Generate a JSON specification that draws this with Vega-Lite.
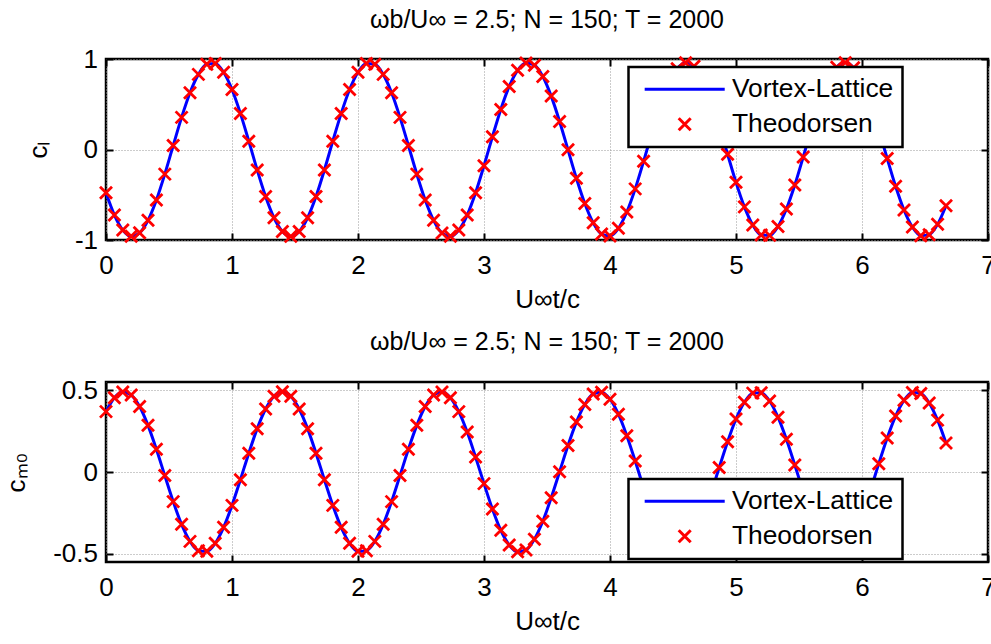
{
  "$schema": "https://vega.github.io/schema/vega-lite/v6.json",
  "background": "white",
  "padding": {"left": 2, "top": 6, "right": 0, "bottom": 0},
  "bounds": "flush",
  "spacing": 142,
  "config": {
    "font": "Liberation Sans",
    "view": {"stroke": "black", "strokeWidth": 2.5},
    "axis": {
      "domain": false,
      "tickColor": "black",
      "tickWidth": 2,
      "tickSize": -7,
      "labelFont": "Liberation Sans",
      "labelFontSize": 26,
      "labelColor": "black",
      "labelOverlap": false,
      "titleFont": "Liberation Sans",
      "titleFontSize": 26,
      "titleFontWeight": "normal",
      "titleColor": "black",
      "gridColor": "#999999",
      "gridDash": [1, 2],
      "gridWidth": 1,
      "gridOpacity": 1
    },
    "legend": {
      "labelFont": "Liberation Sans",
      "labelFontSize": 26.4,
      "labelColor": "black",
      "labelLimit": 0,
      "symbolSize": 144,
      "symbolStrokeWidth": 3,
      "strokeColor": "black",
      "strokeWidth": 2.5,
      "fillColor": "white",
      "padding": 9,
      "cornerRadius": 0,
      "rowPadding": 8,
      "symbolOffset": 34,
      "labelOffset": 34
    },
    "title": {"font": "Liberation Sans", "fontSize": 25, "fontWeight": "normal", "color": "black", "anchor": "middle", "offset": 13}
  },
  "resolve": {"scale": {"color": "independent", "shape": "independent"}},
  "datasets": {
    "vl": [
      {"t":0,"cl":-0.478,"cm":0.369,"s":"Vortex-Lattice"},{"t":0.0667,"cl":-0.724,"cm":0.454,"s":"Vortex-Lattice"},{"t":0.1333,"cl":-0.890,"cm":0.489,"s":"Vortex-Lattice"},{"t":0.2,"cl":-0.959,"cm":0.470,"s":"Vortex-Lattice"},{"t":0.2667,"cl":-0.921,"cm":0.400,"s":"Vortex-Lattice"},{"t":0.3333,"cl":-0.783,"cm":0.285,"s":"Vortex-Lattice"},{"t":0.4,"cl":-0.558,"cm":0.139,"s":"Vortex-Lattice"},{"t":0.4667,"cl":-0.272,"cm":-0.022,"s":"Vortex-Lattice"},{"t":0.5333,"cl":0.044,"cm":-0.181,"s":"Vortex-Lattice"},{"t":0.6,"cl":0.355,"cm":-0.320,"s":"Vortex-Lattice"},
      {"t":0.6667,"cl":0.627,"cm":-0.424,"s":"Vortex-Lattice"},{"t":0.7333,"cl":0.830,"cm":-0.481,"s":"Vortex-Lattice"},{"t":0.8,"cl":0.942,"cm":-0.485,"s":"Vortex-Lattice"},{"t":0.8667,"cl":0.950,"cm":-0.436,"s":"Vortex-Lattice"},{"t":0.9333,"cl":0.853,"cm":-0.338,"s":"Vortex-Lattice"},{"t":1,"cl":0.663,"cm":-0.204,"s":"Vortex-Lattice"},{"t":1.0667,"cl":0.399,"cm":-0.047,"s":"Vortex-Lattice"},{"t":1.1333,"cl":0.092,"cm":0.115,"s":"Vortex-Lattice"},{"t":1.2,"cl":-0.226,"cm":0.265,"s":"Vortex-Lattice"},{"t":1.2667,"cl":-0.519,"cm":0.385,"s":"Vortex-Lattice"},
      {"t":1.3333,"cl":-0.754,"cm":0.463,"s":"Vortex-Lattice"},{"t":1.4,"cl":-0.907,"cm":0.490,"s":"Vortex-Lattice"},{"t":1.4667,"cl":-0.960,"cm":0.463,"s":"Vortex-Lattice"},{"t":1.5333,"cl":-0.907,"cm":0.385,"s":"Vortex-Lattice"},{"t":1.6,"cl":-0.754,"cm":0.265,"s":"Vortex-Lattice"},{"t":1.6667,"cl":-0.519,"cm":0.115,"s":"Vortex-Lattice"},{"t":1.7333,"cl":-0.226,"cm":-0.047,"s":"Vortex-Lattice"},{"t":1.8,"cl":0.092,"cm":-0.204,"s":"Vortex-Lattice"},{"t":1.8667,"cl":0.399,"cm":-0.338,"s":"Vortex-Lattice"},{"t":1.9333,"cl":0.663,"cm":-0.436,"s":"Vortex-Lattice"},
      {"t":2,"cl":0.854,"cm":-0.485,"s":"Vortex-Lattice"},{"t":2.0667,"cl":0.950,"cm":-0.481,"s":"Vortex-Lattice"},{"t":2.1333,"cl":0.942,"cm":-0.424,"s":"Vortex-Lattice"},{"t":2.2,"cl":0.830,"cm":-0.320,"s":"Vortex-Lattice"},{"t":2.2667,"cl":0.627,"cm":-0.181,"s":"Vortex-Lattice"},{"t":2.3333,"cl":0.355,"cm":-0.022,"s":"Vortex-Lattice"},{"t":2.4,"cl":0.044,"cm":0.139,"s":"Vortex-Lattice"},{"t":2.4667,"cl":-0.272,"cm":0.285,"s":"Vortex-Lattice"},{"t":2.5333,"cl":-0.559,"cm":0.400,"s":"Vortex-Lattice"},{"t":2.6,"cl":-0.783,"cm":0.470,"s":"Vortex-Lattice"},
      {"t":2.6667,"cl":-0.922,"cm":0.489,"s":"Vortex-Lattice"},{"t":2.7333,"cl":-0.959,"cm":0.454,"s":"Vortex-Lattice"},{"t":2.8,"cl":-0.890,"cm":0.369,"s":"Vortex-Lattice"},{"t":2.8667,"cl":-0.724,"cm":0.244,"s":"Vortex-Lattice"},{"t":2.9333,"cl":-0.478,"cm":0.091,"s":"Vortex-Lattice"},{"t":3,"cl":-0.179,"cm":-0.071,"s":"Vortex-Lattice"},{"t":3.0667,"cl":0.140,"cm":-0.226,"s":"Vortex-Lattice"},{"t":3.1333,"cl":0.443,"cm":-0.356,"s":"Vortex-Lattice"},{"t":3.2,"cl":0.697,"cm":-0.446,"s":"Vortex-Lattice"},{"t":3.2667,"cl":0.875,"cm":-0.488,"s":"Vortex-Lattice"},
      {"t":3.3333,"cl":0.956,"cm":-0.476,"s":"Vortex-Lattice"},{"t":3.4,"cl":0.932,"cm":-0.411,"s":"Vortex-Lattice"},{"t":3.4667,"cl":0.806,"cm":-0.301,"s":"Vortex-Lattice"},{"t":3.5333,"cl":0.590,"cm":-0.158,"s":"Vortex-Lattice"},{"t":3.6,"cl":0.310,"cm":0.002,"s":"Vortex-Lattice"},{"t":3.6667,"cl":-0.004,"cm":0.162,"s":"Vortex-Lattice"},{"t":3.7333,"cl":-0.318,"cm":0.305,"s":"Vortex-Lattice"},{"t":3.8,"cl":-0.597,"cm":0.413,"s":"Vortex-Lattice"},{"t":3.8667,"cl":-0.810,"cm":0.477,"s":"Vortex-Lattice"},{"t":3.9333,"cl":-0.934,"cm":0.488,"s":"Vortex-Lattice"},
      {"t":4,"cl":-0.955,"cm":0.445,"s":"Vortex-Lattice"},{"t":4.0667,"cl":-0.871,"cm":0.353,"s":"Vortex-Lattice"},{"t":4.1333,"cl":-0.691,"cm":0.222,"s":"Vortex-Lattice"},{"t":4.2,"cl":-0.435,"cm":0.067,"s":"Vortex-Lattice"},{"t":4.2667,"cl":-0.131,"cm":-0.096,"s":"Vortex-Lattice"},{"t":4.3333,"cl":0.187,"cm":-0.247,"s":"Vortex-Lattice"},{"t":4.4,"cl":0.485,"cm":-0.372,"s":"Vortex-Lattice"},{"t":4.4667,"cl":0.729,"cm":-0.456,"s":"Vortex-Lattice"},{"t":4.5333,"cl":0.893,"cm":-0.490,"s":"Vortex-Lattice"},{"t":4.6,"cl":0.959,"cm":-0.469,"s":"Vortex-Lattice"},
      {"t":4.6667,"cl":0.919,"cm":-0.397,"s":"Vortex-Lattice"},{"t":4.7333,"cl":0.778,"cm":-0.282,"s":"Vortex-Lattice"},{"t":4.8,"cl":0.552,"cm":-0.135,"s":"Vortex-Lattice"},{"t":4.8667,"cl":0.264,"cm":0.027,"s":"Vortex-Lattice"},{"t":4.9333,"cl":-0.052,"cm":0.185,"s":"Vortex-Lattice"},{"t":5,"cl":-0.363,"cm":0.324,"s":"Vortex-Lattice"},{"t":5.0667,"cl":-0.634,"cm":0.426,"s":"Vortex-Lattice"},{"t":5.1333,"cl":-0.835,"cm":0.482,"s":"Vortex-Lattice"},{"t":5.2,"cl":-0.944,"cm":0.484,"s":"Vortex-Lattice"},{"t":5.2667,"cl":-0.949,"cm":0.434,"s":"Vortex-Lattice"},
      {"t":5.3333,"cl":-0.850,"cm":0.335,"s":"Vortex-Lattice"},{"t":5.4,"cl":-0.657,"cm":0.200,"s":"Vortex-Lattice"},{"t":5.4667,"cl":-0.392,"cm":0.043,"s":"Vortex-Lattice"},{"t":5.5333,"cl":-0.083,"cm":-0.119,"s":"Vortex-Lattice"},{"t":5.6,"cl":0.234,"cm":-0.268,"s":"Vortex-Lattice"},{"t":5.6667,"cl":0.526,"cm":-0.388,"s":"Vortex-Lattice"},{"t":5.7333,"cl":0.760,"cm":-0.464,"s":"Vortex-Lattice"},{"t":5.8,"cl":0.910,"cm":-0.490,"s":"Vortex-Lattice"},{"t":5.8667,"cl":0.960,"cm":-0.462,"s":"Vortex-Lattice"},{"t":5.9333,"cl":0.904,"cm":-0.382,"s":"Vortex-Lattice"},
      {"t":6,"cl":0.749,"cm":-0.261,"s":"Vortex-Lattice"},{"t":6.0667,"cl":0.511,"cm":-0.111,"s":"Vortex-Lattice"},{"t":6.1333,"cl":0.218,"cm":0.051,"s":"Vortex-Lattice"},{"t":6.2,"cl":-0.100,"cm":0.208,"s":"Vortex-Lattice"},{"t":6.2667,"cl":-0.407,"cm":0.342,"s":"Vortex-Lattice"},{"t":6.3333,"cl":-0.669,"cm":0.438,"s":"Vortex-Lattice"},{"t":6.4,"cl":-0.857,"cm":0.486,"s":"Vortex-Lattice"},{"t":6.4667,"cl":-0.952,"cm":0.480,"s":"Vortex-Lattice"},{"t":6.5333,"cl":-0.941,"cm":0.422,"s":"Vortex-Lattice"},{"t":6.6,"cl":-0.826,"cm":0.317,"s":"Vortex-Lattice"},
      {"t":6.6667,"cl":-0.621,"cm":0.177,"s":"Vortex-Lattice"}
    ],
    "th": [
      {"t":0,"cl":-0.478,"cm":0.369,"s":"Theodorsen"},{"t":0.0667,"cl":-0.724,"cm":0.454,"s":"Theodorsen"},{"t":0.1333,"cl":-0.890,"cm":0.489,"s":"Theodorsen"},{"t":0.2,"cl":-0.959,"cm":0.470,"s":"Theodorsen"},{"t":0.2667,"cl":-0.921,"cm":0.400,"s":"Theodorsen"},{"t":0.3333,"cl":-0.783,"cm":0.285,"s":"Theodorsen"},{"t":0.4,"cl":-0.558,"cm":0.139,"s":"Theodorsen"},{"t":0.4667,"cl":-0.272,"cm":-0.022,"s":"Theodorsen"},{"t":0.5333,"cl":0.044,"cm":-0.181,"s":"Theodorsen"},{"t":0.6,"cl":0.355,"cm":-0.320,"s":"Theodorsen"},
      {"t":0.6667,"cl":0.627,"cm":-0.424,"s":"Theodorsen"},{"t":0.7333,"cl":0.830,"cm":-0.481,"s":"Theodorsen"},{"t":0.8,"cl":0.942,"cm":-0.485,"s":"Theodorsen"},{"t":0.8667,"cl":0.950,"cm":-0.436,"s":"Theodorsen"},{"t":0.9333,"cl":0.853,"cm":-0.338,"s":"Theodorsen"},{"t":1,"cl":0.663,"cm":-0.204,"s":"Theodorsen"},{"t":1.0667,"cl":0.399,"cm":-0.047,"s":"Theodorsen"},{"t":1.1333,"cl":0.092,"cm":0.115,"s":"Theodorsen"},{"t":1.2,"cl":-0.226,"cm":0.265,"s":"Theodorsen"},{"t":1.2667,"cl":-0.519,"cm":0.385,"s":"Theodorsen"},
      {"t":1.3333,"cl":-0.754,"cm":0.463,"s":"Theodorsen"},{"t":1.4,"cl":-0.907,"cm":0.490,"s":"Theodorsen"},{"t":1.4667,"cl":-0.960,"cm":0.463,"s":"Theodorsen"},{"t":1.5333,"cl":-0.907,"cm":0.385,"s":"Theodorsen"},{"t":1.6,"cl":-0.754,"cm":0.265,"s":"Theodorsen"},{"t":1.6667,"cl":-0.519,"cm":0.115,"s":"Theodorsen"},{"t":1.7333,"cl":-0.226,"cm":-0.047,"s":"Theodorsen"},{"t":1.8,"cl":0.092,"cm":-0.204,"s":"Theodorsen"},{"t":1.8667,"cl":0.399,"cm":-0.338,"s":"Theodorsen"},{"t":1.9333,"cl":0.663,"cm":-0.436,"s":"Theodorsen"},
      {"t":2,"cl":0.854,"cm":-0.485,"s":"Theodorsen"},{"t":2.0667,"cl":0.950,"cm":-0.481,"s":"Theodorsen"},{"t":2.1333,"cl":0.942,"cm":-0.424,"s":"Theodorsen"},{"t":2.2,"cl":0.830,"cm":-0.320,"s":"Theodorsen"},{"t":2.2667,"cl":0.627,"cm":-0.181,"s":"Theodorsen"},{"t":2.3333,"cl":0.355,"cm":-0.022,"s":"Theodorsen"},{"t":2.4,"cl":0.044,"cm":0.139,"s":"Theodorsen"},{"t":2.4667,"cl":-0.272,"cm":0.285,"s":"Theodorsen"},{"t":2.5333,"cl":-0.559,"cm":0.400,"s":"Theodorsen"},{"t":2.6,"cl":-0.783,"cm":0.470,"s":"Theodorsen"},
      {"t":2.6667,"cl":-0.922,"cm":0.489,"s":"Theodorsen"},{"t":2.7333,"cl":-0.959,"cm":0.454,"s":"Theodorsen"},{"t":2.8,"cl":-0.890,"cm":0.369,"s":"Theodorsen"},{"t":2.8667,"cl":-0.724,"cm":0.244,"s":"Theodorsen"},{"t":2.9333,"cl":-0.478,"cm":0.091,"s":"Theodorsen"},{"t":3,"cl":-0.179,"cm":-0.071,"s":"Theodorsen"},{"t":3.0667,"cl":0.140,"cm":-0.226,"s":"Theodorsen"},{"t":3.1333,"cl":0.443,"cm":-0.356,"s":"Theodorsen"},{"t":3.2,"cl":0.697,"cm":-0.446,"s":"Theodorsen"},{"t":3.2667,"cl":0.875,"cm":-0.488,"s":"Theodorsen"},
      {"t":3.3333,"cl":0.956,"cm":-0.476,"s":"Theodorsen"},{"t":3.4,"cl":0.932,"cm":-0.411,"s":"Theodorsen"},{"t":3.4667,"cl":0.806,"cm":-0.301,"s":"Theodorsen"},{"t":3.5333,"cl":0.590,"cm":-0.158,"s":"Theodorsen"},{"t":3.6,"cl":0.310,"cm":0.002,"s":"Theodorsen"},{"t":3.6667,"cl":-0.004,"cm":0.162,"s":"Theodorsen"},{"t":3.7333,"cl":-0.318,"cm":0.305,"s":"Theodorsen"},{"t":3.8,"cl":-0.597,"cm":0.413,"s":"Theodorsen"},{"t":3.8667,"cl":-0.810,"cm":0.477,"s":"Theodorsen"},{"t":3.9333,"cl":-0.934,"cm":0.488,"s":"Theodorsen"},
      {"t":4,"cl":-0.955,"cm":0.445,"s":"Theodorsen"},{"t":4.0667,"cl":-0.871,"cm":0.353,"s":"Theodorsen"},{"t":4.1333,"cl":-0.691,"cm":0.222,"s":"Theodorsen"},{"t":4.2,"cl":-0.435,"cm":0.067,"s":"Theodorsen"},{"t":4.2667,"cl":-0.131,"cm":-0.096,"s":"Theodorsen"},{"t":4.3333,"cl":0.187,"cm":-0.247,"s":"Theodorsen"},{"t":4.4,"cl":0.485,"cm":-0.372,"s":"Theodorsen"},{"t":4.4667,"cl":0.729,"cm":-0.456,"s":"Theodorsen"},{"t":4.5333,"cl":0.893,"cm":-0.490,"s":"Theodorsen"},{"t":4.6,"cl":0.959,"cm":-0.469,"s":"Theodorsen"},
      {"t":4.6667,"cl":0.919,"cm":-0.397,"s":"Theodorsen"},{"t":4.7333,"cl":0.778,"cm":-0.282,"s":"Theodorsen"},{"t":4.8,"cl":0.552,"cm":-0.135,"s":"Theodorsen"},{"t":4.8667,"cl":0.264,"cm":0.027,"s":"Theodorsen"},{"t":4.9333,"cl":-0.052,"cm":0.185,"s":"Theodorsen"},{"t":5,"cl":-0.363,"cm":0.324,"s":"Theodorsen"},{"t":5.0667,"cl":-0.634,"cm":0.426,"s":"Theodorsen"},{"t":5.1333,"cl":-0.835,"cm":0.482,"s":"Theodorsen"},{"t":5.2,"cl":-0.944,"cm":0.484,"s":"Theodorsen"},{"t":5.2667,"cl":-0.949,"cm":0.434,"s":"Theodorsen"},
      {"t":5.3333,"cl":-0.850,"cm":0.335,"s":"Theodorsen"},{"t":5.4,"cl":-0.657,"cm":0.200,"s":"Theodorsen"},{"t":5.4667,"cl":-0.392,"cm":0.043,"s":"Theodorsen"},{"t":5.5333,"cl":-0.083,"cm":-0.119,"s":"Theodorsen"},{"t":5.6,"cl":0.234,"cm":-0.268,"s":"Theodorsen"},{"t":5.6667,"cl":0.526,"cm":-0.388,"s":"Theodorsen"},{"t":5.7333,"cl":0.760,"cm":-0.464,"s":"Theodorsen"},{"t":5.8,"cl":0.910,"cm":-0.490,"s":"Theodorsen"},{"t":5.8667,"cl":0.960,"cm":-0.462,"s":"Theodorsen"},{"t":5.9333,"cl":0.904,"cm":-0.382,"s":"Theodorsen"},
      {"t":6,"cl":0.749,"cm":-0.261,"s":"Theodorsen"},{"t":6.0667,"cl":0.511,"cm":-0.111,"s":"Theodorsen"},{"t":6.1333,"cl":0.218,"cm":0.051,"s":"Theodorsen"},{"t":6.2,"cl":-0.100,"cm":0.208,"s":"Theodorsen"},{"t":6.2667,"cl":-0.407,"cm":0.342,"s":"Theodorsen"},{"t":6.3333,"cl":-0.669,"cm":0.438,"s":"Theodorsen"},{"t":6.4,"cl":-0.857,"cm":0.486,"s":"Theodorsen"},{"t":6.4667,"cl":-0.952,"cm":0.480,"s":"Theodorsen"},{"t":6.5333,"cl":-0.941,"cm":0.422,"s":"Theodorsen"},{"t":6.6,"cl":-0.826,"cm":0.317,"s":"Theodorsen"},
      {"t":6.6667,"cl":-0.621,"cm":0.177,"s":"Theodorsen"}
    ]
  },
  "vconcat": [
    {
      "width": 882,
      "height": 181,
      "title": {"text": "ωb/U∞ = 2.5; N = 150; T = 2000", "offset": 13},
      "layer": [
        {
          "data": {"name": "vl"},
          "mark": {"type": "line", "strokeWidth": 3, "interpolate": "monotone"},
          "encoding": {
            "x": {"field": "t", "type": "quantitative", "scale": {"domain": [0, 7], "nice": false, "zero": false},
                  "axis": {"values": [0,1,2,3,4,5,6,7], "format": "d", "title": "U∞t/c", "grid": true, "labelFlush": false, "labelPadding": 19, "titlePadding": 8}},
            "y": {"field": "cl", "type": "quantitative", "scale": {"domain": [-1, 1], "nice": false, "zero": false},
                  "axis": {"values": [-1,0,1], "format": "~g", "labelExpr": "replace(datum.label, '−', '-')", "title": "cₗ", "grid": true, "labelPadding": 15.5, "titlePadding": 23}},
            "color": {"field": "s", "type": "nominal", "scale": {"domain": ["Vortex-Lattice", "Theodorsen"], "range": ["#0000ff", "#ff0000"]},
                      "legend": {"orient": "none", "legendX": 522.5, "legendY": 8, "title": null}}
          }
        },
        {
          "data": {"name": "th"},
          "mark": {"type": "point", "filled": false, "size": 144, "strokeWidth": 2.8, "opacity": 1},
          "encoding": {
            "x": {"field": "t", "type": "quantitative", "scale": {"domain": [0, 7], "nice": false, "zero": false},
                  "axis": {"orient": "top", "values": [0,1,2,3,4,5,6,7], "labels": false, "title": null, "grid": false}},
            "y": {"field": "cl", "type": "quantitative", "scale": {"domain": [-1, 1], "nice": false, "zero": false},
                  "axis": {"orient": "right", "values": [-1,0,1], "labels": false, "title": null, "grid": false}},
            "color": {"field": "s", "type": "nominal", "scale": {"domain": ["Vortex-Lattice", "Theodorsen"], "range": ["#0000ff", "#ff0000"]},
                      "legend": {"orient": "none", "legendX": 522.5, "legendY": 8, "title": null}},
            "shape": {"field": "s", "type": "nominal", "scale": {"domain": ["Vortex-Lattice", "Theodorsen"], "range": ["M-6.67,0L6.67,0", "M-1,-1L1,1M-1,1L1,-1"]},
                      "legend": {"orient": "none", "legendX": 522.5, "legendY": 8, "title": null}}
          }
        }
      ],
      "resolve": {"axis": {"x": "independent", "y": "independent"}}
    },
    {
      "width": 882,
      "height": 180,
      "title": {"text": "ωb/U∞ = 2.5; N = 150; T = 2000", "offset": 22},
      "layer": [
        {
          "data": {"name": "vl"},
          "mark": {"type": "line", "strokeWidth": 3, "interpolate": "monotone"},
          "encoding": {
            "x": {"field": "t", "type": "quantitative", "scale": {"domain": [0, 7], "nice": false, "zero": false},
                  "axis": {"values": [0,1,2,3,4,5,6,7], "format": "d", "title": "U∞t/c", "grid": true, "labelFlush": false, "labelPadding": 19, "titlePadding": 8}},
            "y": {"field": "cm", "type": "quantitative", "scale": {"domain": [-0.55, 0.55], "nice": false, "zero": false},
                  "axis": {"values": [-0.5,0,0.5], "format": "~g", "labelExpr": "replace(datum.label, '−', '-')", "title": "cₘ₀", "grid": true, "labelPadding": 15.5, "titlePadding": 23}},
            "color": {"field": "s", "type": "nominal", "scale": {"domain": ["Vortex-Lattice", "Theodorsen"], "range": ["#0000ff", "#ff0000"]},
                      "legend": {"orient": "none", "legendX": 522.5, "legendY": 97, "title": null}}
          }
        },
        {
          "data": {"name": "th"},
          "mark": {"type": "point", "filled": false, "size": 144, "strokeWidth": 2.8, "opacity": 1},
          "encoding": {
            "x": {"field": "t", "type": "quantitative", "scale": {"domain": [0, 7], "nice": false, "zero": false},
                  "axis": {"orient": "top", "values": [0,1,2,3,4,5,6,7], "labels": false, "title": null, "grid": false}},
            "y": {"field": "cm", "type": "quantitative", "scale": {"domain": [-0.55, 0.55], "nice": false, "zero": false},
                  "axis": {"orient": "right", "values": [-0.5,0,0.5], "labels": false, "title": null, "grid": false}},
            "color": {"field": "s", "type": "nominal", "scale": {"domain": ["Vortex-Lattice", "Theodorsen"], "range": ["#0000ff", "#ff0000"]},
                      "legend": {"orient": "none", "legendX": 522.5, "legendY": 97, "title": null}},
            "shape": {"field": "s", "type": "nominal", "scale": {"domain": ["Vortex-Lattice", "Theodorsen"], "range": ["M-6.67,0L6.67,0", "M-1,-1L1,1M-1,1L1,-1"]},
                      "legend": {"orient": "none", "legendX": 522.5, "legendY": 97, "title": null}}
          }
        }
      ],
      "resolve": {"axis": {"x": "independent", "y": "independent"}}
    }
  ]
}
